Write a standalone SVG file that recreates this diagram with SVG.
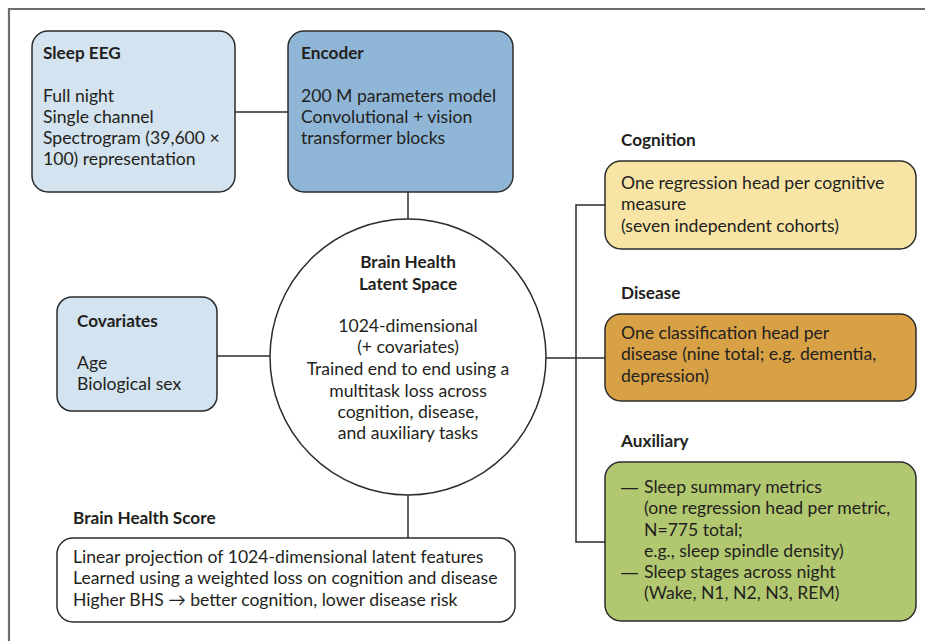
<svg xmlns="http://www.w3.org/2000/svg" width="925" height="641" viewBox="0 0 925 641">
<style>
.box{stroke:#2b2b2b;stroke-width:1.5}
.ln{stroke:#2b2b2b;stroke-width:1.5;fill:none}
text{font-family:Lato,"Open Sans","Liberation Sans",sans-serif;font-size:17.6px;fill:#231f20}
.b{font-weight:bold;font-size:17.2px}
.c{text-anchor:middle}
.d{font-family:"Liberation Sans",sans-serif;font-size:17px}
</style>
<rect width="925" height="641" fill="#ffffff"/>
<path d="M9 641 V9 H925" fill="none" stroke="#6d6d6f" stroke-width="2.2"/>
<g id="connectors">
<line class="ln" x1="235" y1="112" x2="288" y2="112"/>
<line class="ln" x1="408" y1="192" x2="408" y2="219"/>
<line class="ln" x1="217" y1="356" x2="270" y2="356"/>
<line class="ln" x1="408" y1="495" x2="408" y2="538"/>
<line class="ln" x1="546" y1="358" x2="605" y2="358"/>
<path class="ln" d="M605 205 H576 V542 H605"/>
</g>
<g id="sleep-eeg">
<rect class="box" x="32" y="31" width="203" height="161" rx="16" fill="#d3e3ef"/>
<text class="b" x="43" y="59">Sleep EEG</text>
<text x="43" y="102">Full night</text>
<text x="43" y="123">Single channel</text>
<text x="43" y="144">Spectrogram (39,600 ×</text>
<text x="43" y="165">100) representation</text>
</g>
<g id="encoder">
<rect class="box" x="288" y="31" width="225" height="161" rx="16" fill="#8fb6d7"/>
<text class="b" x="301" y="59">Encoder</text>
<text x="301" y="102">200 M parameters model</text>
<text x="301" y="123">Convolutional + vision</text>
<text x="301" y="144">transformer blocks</text>
</g>
<g id="latent-space">
<circle class="box" cx="408" cy="357" r="138" fill="#ffffff"/>
<text class="b c" x="408" y="268">Brain Health</text>
<text class="b c" x="408" y="290">Latent Space</text>
<text class="c" x="408" y="332">1024-dimensional</text>
<text class="c" x="408" y="353">(+ covariates)</text>
<text class="c" x="408" y="375">Trained end to end using a</text>
<text class="c" x="408" y="397">multitask loss across</text>
<text class="c" x="408" y="418">cognition, disease,</text>
<text class="c" x="408" y="439">and auxiliary tasks</text>
</g>
<g id="covariates">
<rect class="box" x="57" y="297" width="160" height="114" rx="15" fill="#d3e3ef"/>
<text class="b" x="77" y="327">Covariates</text>
<text x="77" y="369">Age</text>
<text x="77" y="390">Biological sex</text>
</g>
<g id="brain-health-score">
<text class="b" x="73" y="524">Brain Health Score</text>
<rect class="box" x="57" y="538" width="458" height="84" rx="16" fill="#ffffff"/>
<text x="73" y="563">Linear projection of 1024-dimensional latent features</text>
<text x="73" y="584">Learned using a weighted loss on cognition and disease</text>
<text x="73" y="606">Higher BHS → better cognition, lower disease risk</text>
</g>
<g id="cognition">
<text class="b" x="621" y="146">Cognition</text>
<rect class="box" x="605" y="161" width="311" height="88" rx="16" fill="#f8e5a6"/>
<text x="621" y="189">One regression head per cognitive</text>
<text x="621" y="210">measure</text>
<text x="621" y="232">(seven independent cohorts)</text>
</g>
<g id="disease">
<text class="b" x="621" y="299">Disease</text>
<rect class="box" x="605" y="314" width="311" height="87" rx="16" fill="#d8a146"/>
<text x="621" y="339">One classification head per</text>
<text x="621" y="360">disease (nine total; e.g. dementia,</text>
<text x="621" y="382">depression)</text>
</g>
<g id="auxiliary">
<text class="b" x="621" y="447">Auxiliary</text>
<rect class="box" x="605" y="462" width="311" height="159" rx="16" fill="#b2c870"/>
<text class="d" x="621" y="493">—</text>
<text x="644" y="493">Sleep summary metrics</text>
<text x="644" y="514">(one regression head per metric,</text>
<text x="644" y="536">N=775 total;</text>
<text x="644" y="557">e.g., sleep spindle density)</text>
<text class="d" x="621" y="578">—</text>
<text x="644" y="578">Sleep stages across night</text>
<text x="644" y="599">(Wake, N1, N2, N3, REM)</text>
</g>
</svg>
